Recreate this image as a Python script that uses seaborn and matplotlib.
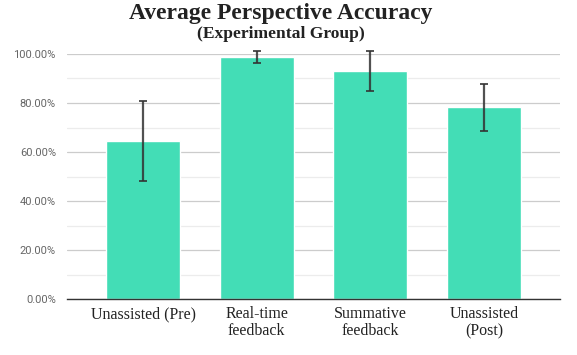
import pandas as pd
import seaborn as sns
from matplotlib import pyplot as plt
from matplotlib.ticker import MultipleLocator, PercentFormatter

# values (percent)
conditions = ['Unassisted (Pre)', 'Real-time\nfeedback', 'Summative\nfeedback', 'Unassisted\n(Post)']
mean_accuracy = [64.5, 98.8, 93.0, 78.3]
error = [16.2, 2.5, 8.3, 9.6]

df = pd.DataFrame({'condition': conditions, 'accuracy': mean_accuracy, 'err': error})

sns.set_style('white')
plt.rcParams['font.family'] = ['Liberation Serif', 'DejaVu Serif']

fig = plt.figure(figsize=(5.77, 3.55), dpi=100)
ax = fig.add_axes([0.1161, 0.1577, 0.8544, 0.6902])

sns.barplot(data=df, x='condition', y='accuracy', color='#43ddb6', saturation=1,
            width=0.65, errorbar=None, ax=ax, zorder=2)
ax.errorbar(range(len(conditions)), df['accuracy'], yerr=df['err'], fmt='none',
            ecolor='#333333', elinewidth=1.6, capsize=3, capthick=1.4, alpha=0.85,
            zorder=3, clip_on=False)

ax.set_xlim(-0.67, 3.67)
ax.set_ylim(0, 100)
ax.yaxis.set_major_locator(MultipleLocator(20))
ax.yaxis.set_minor_locator(MultipleLocator(10))
ax.yaxis.set_major_formatter(PercentFormatter(decimals=2))
ax.grid(axis='y', which='major', color='#cccccc', linewidth=0.9, zorder=0)
ax.grid(axis='y', which='minor', color='#ececec', linewidth=0.9, zorder=0)
ax.set_axisbelow(True)

for side in ['top', 'right', 'left']:
    ax.spines[side].set_visible(False)
ax.spines['bottom'].set_color('#333333')
ax.spines['bottom'].set_linewidth(1.0)

ax.tick_params(axis='y', which='both', length=0, pad=8, labelsize=8, labelcolor='#666666')
ax.tick_params(axis='x', length=0, pad=5, labelsize=11.5, labelcolor='#222222')
for lab in ax.get_yticklabels():
    lab.set_fontfamily('Roboto')
for lab in ax.get_xticklabels():
    lab.set_linespacing(1.1)
ax.set_xlabel('')
ax.set_ylabel('')

fig.text(0.487, 1 - 19 / 355, 'Average Perspective Accuracy', ha='center', va='baseline',
         fontsize=17, fontweight='bold', color='#222222')
fig.text(0.487, 1 - 38 / 355, '(Experimental Group)', ha='center', va='baseline',
         fontsize=12.6, fontweight='bold', color='#222222')

fig.savefig('out.png', dpi=100)
